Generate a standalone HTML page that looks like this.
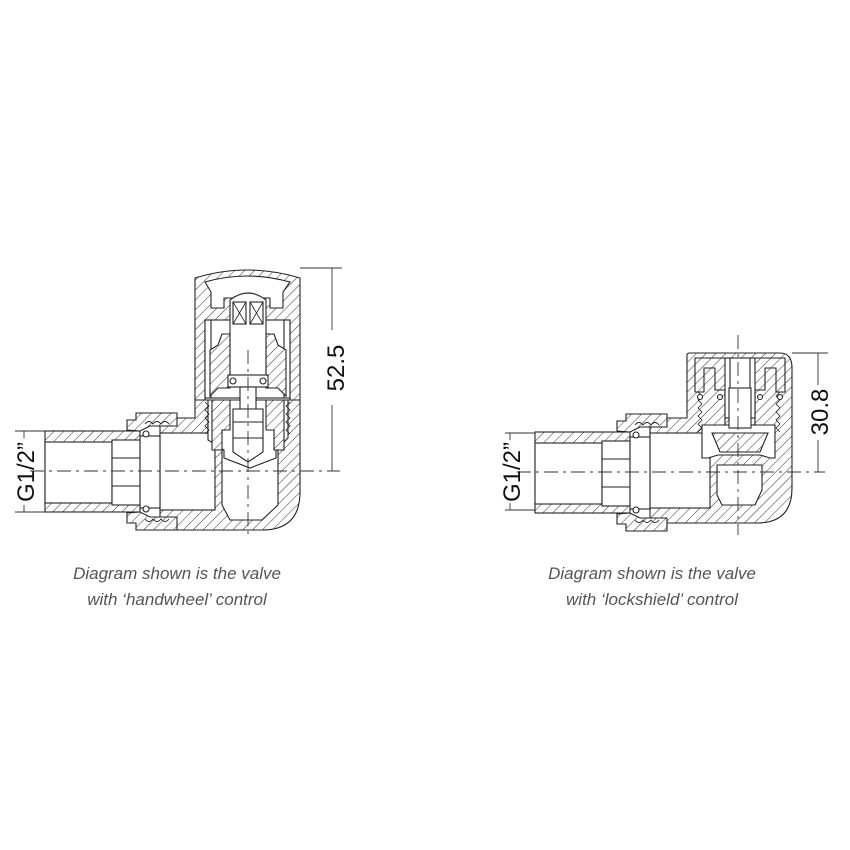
<!DOCTYPE html>
<html><head><meta charset="utf-8"><style>
html,body{margin:0;padding:0;background:#fff;}
svg{display:block}
.cap{font-family:"Liberation Sans",sans-serif;font-style:italic;font-size:17px;fill:#555;text-anchor:middle}
.dim{font-family:"Liberation Sans",sans-serif;font-size:24px;fill:#111;text-anchor:middle}
</style></head><body>
<svg width="850" height="850" viewBox="0 0 850 850" xmlns="http://www.w3.org/2000/svg">
<defs>
<pattern id="h" width="7" height="7" patternUnits="userSpaceOnUse" patternTransform="rotate(45)">
<rect width="7" height="7" fill="#fff"/><line x1="0" y1="0" x2="0" y2="7" stroke="#333" stroke-width="1"/>
</pattern>
<g id="tail" stroke="#222" stroke-width="1.1">
  <rect x="45" y="431" width="95" height="81" fill="url(#h)"/>
  <rect x="45" y="442" width="67" height="61" fill="#fff"/>
  <rect x="112" y="440" width="28" height="65" fill="#fff"/>
  <line x1="112" y1="458" x2="140" y2="458"/><line x1="112" y1="486" x2="140" y2="486"/>
  <rect x="140" y="436" width="20" height="72" fill="#fff"/>
  <path d="M127 430 V420 H136 V413 H177 V426 H150 L140 431 Z" fill="url(#h)"/>
  <path d="M127 513 V523 H136 V530 H177 V517 H150 L140 512 Z" fill="url(#h)"/>
  <path d="M145 424 Q149 419 153 424 Q157 419 161 424 Q165 419 169 424" fill="none" stroke-width="0.9"/>
  <path d="M145 519 Q149 524 153 519 Q157 524 161 519 Q165 524 169 519" fill="none" stroke-width="0.9"/>
  <circle cx="146" cy="434" r="3" fill="#fff"/><circle cx="146" cy="509" r="3" fill="#fff"/>
</g>
</defs>

<g stroke="#222" stroke-width="1.1">
  <path d="M160 418 H195 V400 H300 V492 Q300 530 262 530 H160 Z" fill="url(#h)"/>
  <rect x="160" y="433" width="55" height="77" fill="#fff"/>
  <path d="M222 450 H278 V505 L262 520 H230 L222 505 Z" fill="#fff"/>
  <path d="M208 400 H288 V438 L276 450 V458 L250 468 L224 458 V450 L208 440 Z" fill="#fff"/>
  <path d="M205 402 l4 4 -4 4 4 4 -4 4 4 4 -4 4 4 4 -4 4" fill="none" stroke-width="0.8"/>
  <path d="M290 402 l-4 4 4 4 -4 4 4 4 -4 4 4 4 -4 4 4 4" fill="none" stroke-width="0.8"/>
  <path d="M195 278 Q247 262 300 278 V400 H290 V322 H205 V400 H195 Z" fill="url(#h)"/>
  <path d="M205 282 Q247 270 290 282 L283 292 V308 H270 V298 H224 V308 H211 V292 Z" fill="#fff"/>
  <rect x="205" y="320" width="85" height="78" fill="#fff"/>
  <line x1="211" y1="320" x2="211" y2="398"/><line x1="284" y1="320" x2="284" y2="398"/>
  <path d="M222 334 H230 V388 H218 L210 396 V350 L218 345 Z" fill="url(#h)"/>
  <path d="M274 334 H266 V388 H278 L286 396 V350 L278 345 Z" fill="url(#h)"/>
  <path d="M212 400 H230 V430 H222 V450 H212 Z" fill="url(#h)"/>
  <path d="M284 400 H266 V430 H274 V450 H284 Z" fill="url(#h)"/>
  <path d="M230 300 Q248 286 266 300 V375 H230 Z" fill="#fff"/>
  <rect x="233" y="302" width="13" height="22" fill="#fff"/><rect x="250" y="302" width="13" height="22" fill="#fff"/>
  <path d="M233 302 L246 324 M246 302 L233 324 M250 302 L263 324 M263 302 L250 324" stroke-width="0.8"/>
  <rect x="228" y="375" width="40" height="12" fill="#fff"/>
  <circle cx="233" cy="381" r="3" fill="#fff"/><circle cx="263" cy="381" r="3" fill="#fff"/>
  <rect x="240" y="387" width="16" height="22" fill="#fff"/>
  <path d="M233 409 H263 V452 L248 462 L233 452 Z" fill="#fff"/>
  <line x1="233" y1="422" x2="263" y2="422"/><line x1="233" y1="438" x2="263" y2="438"/>
</g>
<use href="#tail"/>
<g stroke="#333" stroke-width="0.9" stroke-dasharray="14,5,3,5" fill="none">
  <line x1="30" y1="471" x2="340" y2="471"/>
  <line x1="248" y1="350" x2="248" y2="535"/>
</g>
<g stroke="#333" stroke-width="0.9">
  <line x1="300" y1="268" x2="342" y2="268"/>
  <line x1="332" y1="268" x2="332" y2="330"/><line x1="332" y1="405" x2="332" y2="471"/>
  <line x1="15" y1="431" x2="45" y2="431"/><line x1="15" y1="512" x2="45" y2="512"/>
  <line x1="24" y1="431" x2="24" y2="438"/><line x1="24" y1="505" x2="24" y2="512"/>
</g>
<text class="dim" transform="translate(344,368) rotate(-90)">52.5</text>
<text class="dim" transform="translate(34,472) rotate(-90)">G1/2”</text>

<g stroke="#222" stroke-width="1.1">
  <path d="M650 418 H687 V355 Q687 353 690 353 H780 Q792 353 792 368 V488 Q792 523 757 523 H650 Z" fill="url(#h)"/>
  <rect x="650" y="433" width="60" height="75" fill="#fff"/>
  <path d="M717 465 H762 V490 L755 505 H722 L717 495 Z" fill="#fff"/>
  <path d="M702 425 H775 V458 H770 L760 455 H718 L708 458 H702 Z" fill="#fff"/>
  <path d="M712 433 H768 L760 452 H720 Z" fill="url(#h)"/>
  <path d="M698 392 l4 4 -4 4 4 4 -4 4 4 4 -4 4 4 4 -4 4 4 4 -4 4" fill="none" stroke-width="0.8"/>
  <path d="M780 392 l-4 4 4 4 -4 4 4 4 -4 4 4 4 -4 4 4 4 -4 4 4 4" fill="none" stroke-width="0.8"/>
  <path d="M695 358 H785 V392 H776 V368 H765 V390 H755 V425 H725 V390 H715 V368 H704 V392 H695 Z" fill="url(#h)"/>
  <rect x="725" y="358" width="30" height="60" fill="#fff"/>
  <line x1="730" y1="358" x2="730" y2="388"/><line x1="750" y1="358" x2="750" y2="388"/>
  <rect x="729" y="388" width="22" height="40" fill="#fff"/>
  <circle cx="700" cy="397" r="2.5" fill="#fff"/><circle cx="780" cy="397" r="2.5" fill="#fff"/>
  <circle cx="720" cy="397" r="2.5" fill="#fff"/><circle cx="760" cy="397" r="2.5" fill="#fff"/>
</g>
<use href="#tail" transform="translate(490,1)"/>
<g stroke="#333" stroke-width="0.9" stroke-dasharray="14,5,3,5" fill="none">
  <line x1="517" y1="472" x2="825" y2="472"/>
  <line x1="738" y1="335" x2="738" y2="535"/>
</g>
<g stroke="#333" stroke-width="0.9">
  <line x1="792" y1="353" x2="828" y2="353"/>
  <line x1="818" y1="353" x2="818" y2="385"/><line x1="818" y1="440" x2="818" y2="472"/>
  <line x1="505" y1="433" x2="535" y2="433"/><line x1="505" y1="510" x2="535" y2="510"/>
  <line x1="510" y1="433" x2="510" y2="440"/><line x1="510" y1="503" x2="510" y2="510"/>
</g>
<text class="dim" transform="translate(828,412) rotate(-90)">30.8</text>
<text class="dim" transform="translate(520,472) rotate(-90)">G1/2”</text>

<text class="cap" x="177" y="579">Diagram shown is the valve</text>
<text class="cap" x="177" y="605">with ‘handwheel’ control</text>
<text class="cap" x="652" y="579">Diagram shown is the valve</text>
<text class="cap" x="652" y="605">with ‘lockshield’ control</text>
</svg>
</body></html>
